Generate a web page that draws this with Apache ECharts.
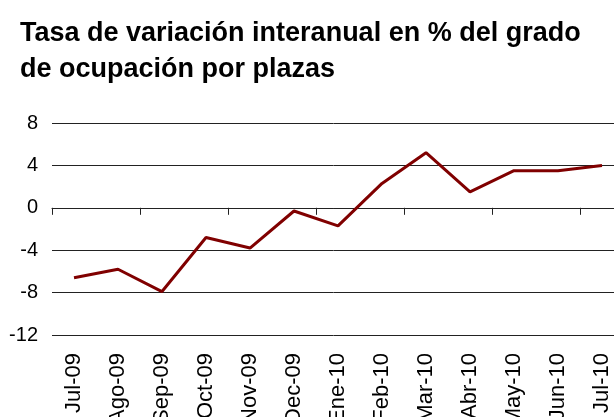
<!DOCTYPE html>
<html>
<head>
<meta charset="utf-8">
<script src="https://cdn.jsdelivr.net/npm/echarts@6/dist/echarts.min.js"></script>
<style>
  html, body { margin: 0; padding: 0; background: #fff; }
  #chart { width: 614px; height: 417px; }
</style>
</head>
<body>
<div id="chart"></div>
<script>
var titulo = 'Tasa de variación interanual en % del grado\nde ocupación por plazas';
var meses = ['Jul-09', 'Ago-09', 'Sep-09', 'Oct-09', 'Nov-09', 'Dec-09', 'Ene-10',
             'Feb-10', 'Mar-10', 'Abr-10', 'May-10', 'Jun-10', 'Jul-10'];
var tasa = [-6.6, -5.8, -7.9, -2.8, -3.8, -0.3, -1.7, 2.3, 5.2, 1.5, 3.5, 3.5, 4.0];
var yMin = -12, yMax = 8, yPaso = 4;

var initLineChart = function(chartId){
	var dom = document.getElementById(chartId);
	var myChart = echarts.init(dom);
	var option = {
	    animation: false,
	    title: {
	        text: titulo,
	        left: 15,
	        top: 11,
	        textStyle: {
	            fontFamily: 'Arial, Liberation Sans',
	            fontSize: 27,
	            fontWeight: 'bold',
	            color: '#000',
	            lineHeight: 36
	        }
	    },
	    grid: {
	        left: 52,
	        right: -10,
	        top: 123,
	        bottom: 82,
	        containLabel: false,
	        outerBoundsMode: 'none'
	    },
	    xAxis: [
	        {
	            type: 'category',
	            data: meses,
	            position: 'bottom',
	            axisLine: { show: false, onZero: false },
	            axisTick: { show: false },
	            axisLabel: {
	                rotate: 90,
	                interval: 0,
	                margin: 18,
	                fontFamily: 'Arial, Liberation Sans',
	                fontSize: 22,
	                color: '#000'
	            }
	        },
	        {
	            type: 'category',
	            data: meses,
	            position: 'bottom',
	            axisLine: { show: true, onZero: true, lineStyle: { color: '#222', width: 1 } },
	            axisTick: { show: true, length: 7, lineStyle: { color: '#222' } },
	            axisLabel: { show: false }
	        }
	    ],
	    yAxis: {
	        type: 'value',
	        min: yMin,
	        max: yMax,
	        interval: yPaso,
	        axisLine: { show: false },
	        axisTick: { show: false },
	        axisLabel: {
	            margin: 14,
	            fontFamily: 'Arial, Liberation Sans',
	            fontSize: 20,
	            color: '#000'
	        },
	        splitLine: { show: true, lineStyle: { color: '#222', width: 1 } }
	    },
	    series: [
	        {
	            name: 'Tasa',
	            type: 'line',
	            xAxisIndex: 0,
	            data: tasa,
	            symbol: 'none',
	            lineStyle: { color: '#800000', width: 3 }
	        }
	    ]
	};
	myChart.setOption(option, true);
}

initLineChart('chart');
</script>
</body>
</html>
